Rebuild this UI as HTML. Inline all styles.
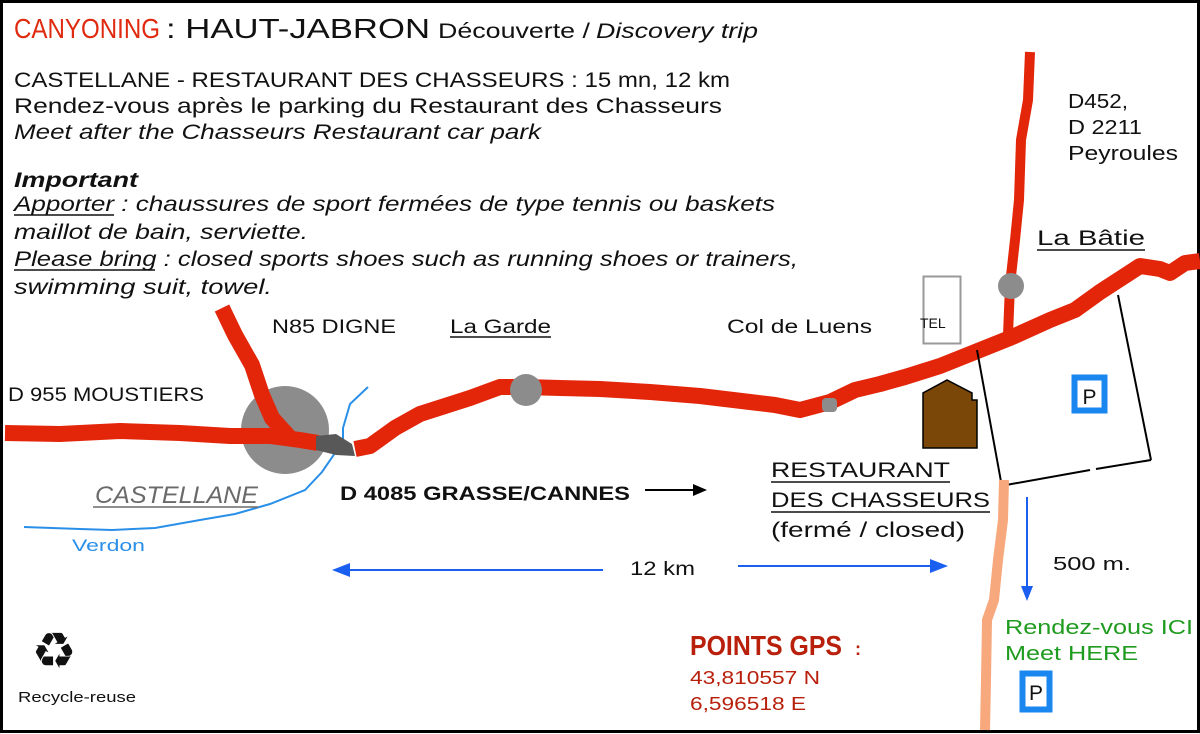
<!DOCTYPE html>
<html><head><meta charset="utf-8"><style>
html,body{margin:0;padding:0;background:#fff}
svg{display:block}
text{font-family:"Liberation Sans",sans-serif}
</style></head><body>
<svg width="1200" height="734" viewBox="0 0 1200 734" xmlns="http://www.w3.org/2000/svg">
<rect x="0" y="0" width="1200" height="734" fill="#fff"/>
<rect x="1.5" y="1.5" width="1197" height="730" fill="none" stroke="#000" stroke-width="3"/>

<text x="14" y="38" font-size="28" fill="#e02a10" textLength="146" lengthAdjust="spacingAndGlyphs">CANYONING</text>
<text x="166" y="38" font-size="28" fill="#111" textLength="264" lengthAdjust="spacingAndGlyphs">: HAUT-JABRON</text>
<text x="438" y="38" font-size="21" fill="#111" textLength="152" lengthAdjust="spacingAndGlyphs">Découverte /</text>
<text x="596" y="38" font-size="21" font-style="italic" fill="#111" textLength="162" lengthAdjust="spacingAndGlyphs">Discovery trip</text>

<text x="14" y="87" font-size="21" fill="#111" textLength="716" lengthAdjust="spacingAndGlyphs">CASTELLANE - RESTAURANT DES CHASSEURS : 15 mn, 12 km</text>
<text x="14" y="113" font-size="21" fill="#111" textLength="708" lengthAdjust="spacingAndGlyphs">Rendez-vous après le parking du Restaurant des Chasseurs</text>
<text x="14" y="139" font-size="21" font-style="italic" fill="#111" textLength="527" lengthAdjust="spacingAndGlyphs">Meet after the Chasseurs Restaurant car park</text>

<text x="14" y="187" font-size="21" font-style="italic" font-weight="bold" fill="#111" textLength="124" lengthAdjust="spacingAndGlyphs">Important</text>
<text x="14" y="211" font-size="21" font-style="italic" fill="#111" textLength="761" lengthAdjust="spacingAndGlyphs">Apporter : chaussures de sport fermées de type tennis ou baskets</text>
<line x1="14" y1="215" x2="114" y2="215" stroke="#111" stroke-width="1.5"/>
<text x="14" y="239" font-size="21" font-style="italic" fill="#111" textLength="294" lengthAdjust="spacingAndGlyphs">maillot de bain, serviette.</text>
<text x="14" y="266" font-size="21" font-style="italic" fill="#111" textLength="784" lengthAdjust="spacingAndGlyphs">Please bring : closed sports shoes such as running shoes or trainers,</text>
<line x1="14" y1="270" x2="155" y2="270" stroke="#111" stroke-width="1.5"/>
<text x="14" y="294" font-size="21" font-style="italic" fill="#111" textLength="258" lengthAdjust="spacingAndGlyphs">swimming suit, towel.</text>

<polyline points="24,527 80,529 112,530 155,528 200,520 235,514 270,504 305,490 322,472 335,453 343,445 343,428 350,404 368,387" fill="none" stroke="#2a8fe8" stroke-width="2"/>

<circle cx="285" cy="430" r="44" fill="#8c8c8c"/>

<polyline points="5,433 60,434 120,431 180,433 230,436 270,436 300,440 318,443" fill="none" stroke="#e3260a" stroke-width="16" stroke-linejoin="round"/>
<polyline points="222,308 235,335 252,365 262,395 272,418 290,438" fill="none" stroke="#e3260a" stroke-width="16" stroke-linejoin="round"/>
<polygon points="316,436 336,434 352,444 355,456 336,455 316,450" fill="#585858"/>
<polyline points="355,449 370,446 395,428 420,414 470,398 500,387 525,387 560,388 600,389 650,392 700,396 750,402 775,405 800,410 830,402 855,390 880,384 905,377 940,366 980,350 1010,338 1050,320 1075,310 1100,292 1140,266 1160,269 1170,273 1185,263 1200,261" fill="none" stroke="#e3260a" stroke-width="16" stroke-linejoin="round"/>
<polyline points="1030,52 1028,100 1021,140 1019,200 1015,240 1010,285 1008,335" fill="none" stroke="#e3260a" stroke-width="10" stroke-linejoin="round"/>

<circle cx="526" cy="390" r="16" fill="#8c8c8c"/>
<rect x="822" y="398" width="15" height="14" rx="4" fill="#8c8c8c"/>
<circle cx="1011" cy="286" r="13" fill="#8c8c8c"/>

<line x1="977" y1="350" x2="1002" y2="487" stroke="#000" stroke-width="2"/>
<line x1="1006" y1="485" x2="1090" y2="470" stroke="#000" stroke-width="2"/>
<line x1="1096" y1="469" x2="1151" y2="460" stroke="#000" stroke-width="2"/>
<line x1="1151" y1="460" x2="1118" y2="295" stroke="#000" stroke-width="2"/>

<polyline points="1004,480 1003,520 998,560 994,600 987,620 986,680 985,730" fill="none" stroke="#f7a87c" stroke-width="10"/>

<polygon points="923,448 923,393 947,380 972,393 972,400 977,400 977,448" fill="#7a4708" stroke="#000" stroke-width="1.5"/>

<rect x="923.5" y="276.5" width="37" height="67" fill="#fff" stroke="#999" stroke-width="2"/>
<text x="920" y="328" font-size="14" fill="#111">TEL</text>

<rect x="1074.5" y="377.5" width="30" height="33" fill="#fff" stroke="#1a86f0" stroke-width="6"/>
<text x="1089.5" y="404" font-size="21" fill="#111" text-anchor="middle">P</text>
<rect x="1022.5" y="673.5" width="27" height="36" fill="#fff" stroke="#1a86f0" stroke-width="6"/>
<text x="1036" y="700" font-size="21" fill="#111" text-anchor="middle">P</text>

<text x="272" y="333" font-size="19" fill="#111" textLength="124" lengthAdjust="spacingAndGlyphs">N85 DIGNE</text>
<text x="450" y="333" font-size="19" fill="#111" textLength="101" lengthAdjust="spacingAndGlyphs">La Garde</text>
<line x1="450" y1="337" x2="551" y2="337" stroke="#111" stroke-width="1.5"/>
<text x="727" y="333" font-size="19" fill="#111" textLength="145" lengthAdjust="spacingAndGlyphs">Col de Luens</text>
<text x="8" y="401" font-size="19" fill="#111" textLength="196" lengthAdjust="spacingAndGlyphs">D 955 MOUSTIERS</text>
<text x="1068" y="108" font-size="20" fill="#111" textLength="60" lengthAdjust="spacingAndGlyphs">D452,</text>
<text x="1068" y="134" font-size="20" fill="#111" textLength="74" lengthAdjust="spacingAndGlyphs">D 2211</text>
<text x="1068" y="160" font-size="20" fill="#111" textLength="110" lengthAdjust="spacingAndGlyphs">Peyroules</text>
<text x="1037" y="245" font-size="21" fill="#111" textLength="108" lengthAdjust="spacingAndGlyphs">La Bâtie</text>
<line x1="1037" y1="250" x2="1145" y2="250" stroke="#111" stroke-width="1.5"/>

<text x="95" y="503" font-size="24" font-style="italic" fill="#6a6a6a" textLength="163" lengthAdjust="spacingAndGlyphs">CASTELLANE</text>
<line x1="93" y1="507" x2="258" y2="507" stroke="#6a6a6a" stroke-width="1.5"/>
<text x="72" y="551" font-size="17" fill="#2a8fe8" textLength="73" lengthAdjust="spacingAndGlyphs">Verdon</text>

<text x="340" y="500" font-size="19" font-weight="bold" fill="#111" textLength="290" lengthAdjust="spacingAndGlyphs">D 4085 GRASSE/CANNES</text>
<line x1="645" y1="490" x2="695" y2="490" stroke="#000" stroke-width="2"/>
<polygon points="707,490 693,484 693,496" fill="#000"/>

<text x="771" y="477" font-size="21" fill="#111" textLength="179" lengthAdjust="spacingAndGlyphs">RESTAURANT</text>
<line x1="771" y1="482" x2="950" y2="482" stroke="#111" stroke-width="1.5"/>
<text x="771" y="507" font-size="21" fill="#111" textLength="219" lengthAdjust="spacingAndGlyphs">DES CHASSEURS</text>
<line x1="771" y1="512" x2="990" y2="512" stroke="#111" stroke-width="1.5"/>
<text x="771" y="537" font-size="21" fill="#111" textLength="194" lengthAdjust="spacingAndGlyphs">(fermé / closed)</text>

<line x1="345" y1="570" x2="603" y2="570" stroke="#1a5ff0" stroke-width="2"/>
<polygon points="332,570 350,563 350,577" fill="#1a5ff0"/>
<text x="630" y="575" font-size="19" fill="#111" textLength="65" lengthAdjust="spacingAndGlyphs">12 km</text>
<line x1="738" y1="566" x2="935" y2="566" stroke="#1a5ff0" stroke-width="2"/>
<polygon points="948,566 930,559 930,573" fill="#1a5ff0"/>

<text x="1053" y="570" font-size="18" fill="#111" textLength="78" lengthAdjust="spacingAndGlyphs">500 m.</text>
<line x1="1027" y1="497" x2="1027" y2="588" stroke="#1a5ff0" stroke-width="2"/>
<polygon points="1027,601 1021,586 1033,586" fill="#1a5ff0"/>

<text x="1005" y="634" font-size="20" fill="#1f9b1f" textLength="188" lengthAdjust="spacingAndGlyphs">Rendez-vous ICI</text>
<text x="1005" y="660" font-size="20" fill="#1f9b1f" textLength="133" lengthAdjust="spacingAndGlyphs">Meet HERE</text>

<text x="690" y="655" font-size="28" font-weight="bold" fill="#b8200c" textLength="152" lengthAdjust="spacingAndGlyphs">POINTS  GPS</text>
<text x="855" y="655" font-size="18" font-weight="bold" fill="#b8200c">:</text>
<text x="690" y="684" font-size="18" fill="#b8200c" textLength="130" lengthAdjust="spacingAndGlyphs">43,810557  N</text>
<text x="690" y="710" font-size="18" fill="#b8200c" textLength="116" lengthAdjust="spacingAndGlyphs">6,596518  E</text>

<text x="54" y="668" font-size="50" fill="#111" text-anchor="middle" font-family="DejaVu Sans">♻</text>
<text x="18" y="702" font-size="15" fill="#111" textLength="118" lengthAdjust="spacingAndGlyphs">Recycle-reuse</text>
</svg>
</body></html>
